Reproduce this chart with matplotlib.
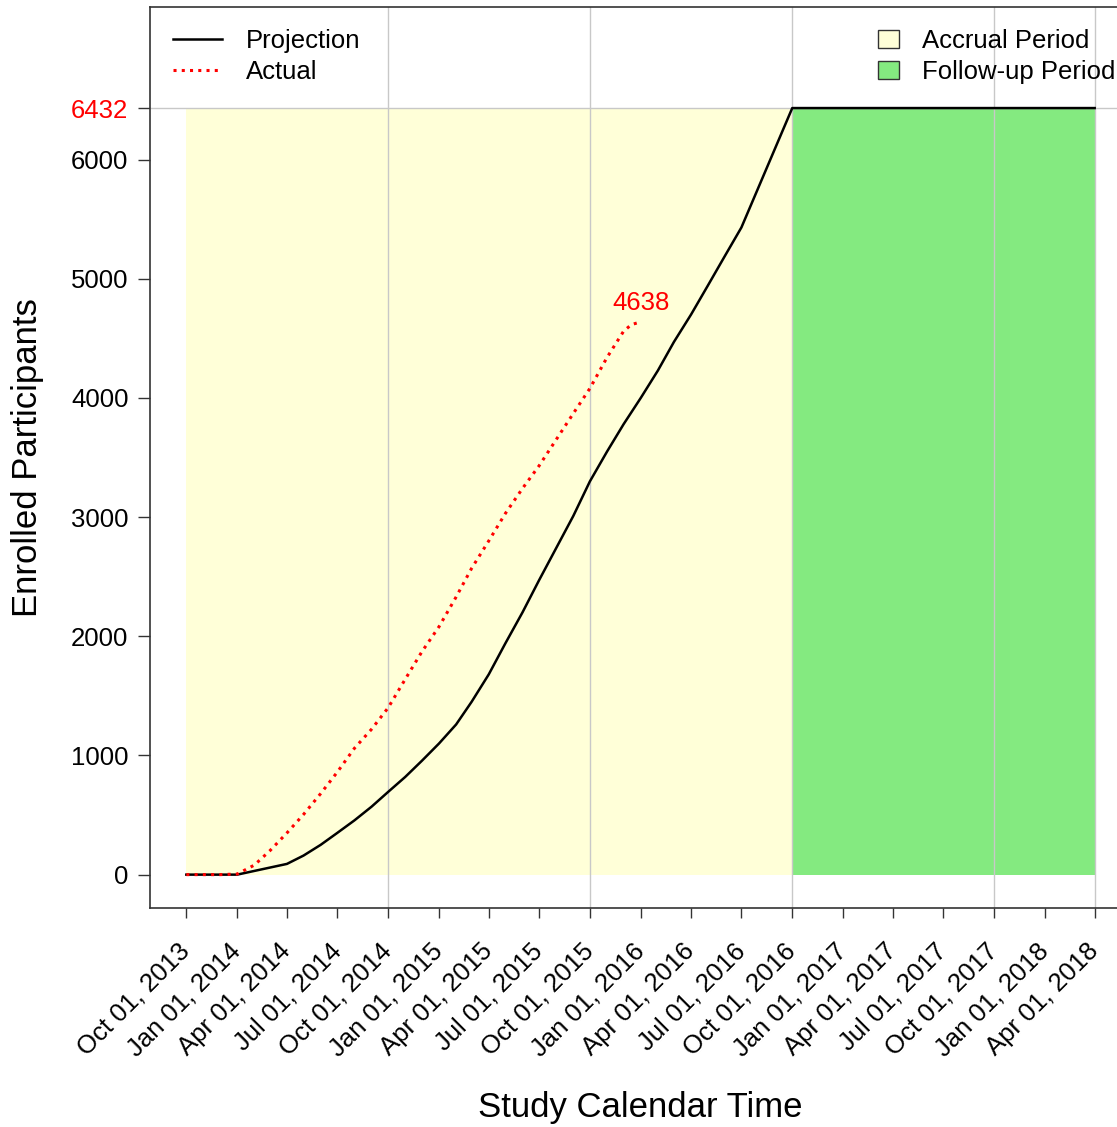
import numpy as np
import pandas as pd
import matplotlib
matplotlib.use("Agg")
import matplotlib.pyplot as plt
import matplotlib.dates as mdates
from matplotlib.lines import Line2D
from matplotlib.patches import Patch

plt.rcParams['font.family'] = ['Liberation Sans', 'DejaVu Sans']

target = 6432
enrolled_now = 4638

# projection (monthly read-off)
proj_dates = ["2013-10-01", "2014-01-01", "2014-04-01", "2014-05-01", "2014-06-01",
              "2014-07-01", "2014-08-01", "2014-09-01", "2014-10-01", "2014-11-01",
              "2014-12-01", "2015-01-01", "2015-02-01", "2015-03-01", "2015-04-01",
              "2015-05-01", "2015-06-01", "2015-07-01", "2015-08-01", "2015-09-01",
              "2015-10-01", "2015-11-01", "2015-12-01", "2016-01-01", "2016-02-01",
              "2016-03-01", "2016-04-01", "2016-05-01", "2016-06-01", "2016-07-01",
              "2016-10-01", "2018-04-01"]
proj_vals = [0, 0, 90, 160, 250,
             350, 455, 570, 694, 820,
             955, 1100, 1260, 1450, 1680,
             1940, 2200, 2470, 2740, 3010,
             3300, 3550, 3780, 4000, 4230,
             4470, 4700, 4940, 5190, 5430,
             6432, 6432]

# actual enrollment
act_dates = ["2013-10-01", "2013-11-01", "2013-12-01", "2014-01-01", "2014-02-01",
             "2014-03-01", "2014-04-01", "2014-05-01", "2014-06-01", "2014-07-01",
             "2014-08-01", "2014-09-01", "2014-10-01", "2014-11-01", "2014-12-01",
             "2015-01-01", "2015-02-01", "2015-03-01", "2015-04-01", "2015-05-01",
             "2015-06-01", "2015-07-01", "2015-08-01", "2015-09-01", "2015-10-01",
             "2015-11-01", "2015-12-01", "2015-12-15", "2016-01-01"]
act_vals = [0, 0, 0, 5, 80,
            200, 350, 505, 680, 860,
            1060, 1220, 1400, 1640, 1870,
            2080, 2330, 2570, 2800, 3030,
            3240, 3430, 3650, 3870, 4080,
            4340, 4560, 4615, enrolled_now]

tick_dates = pd.date_range("2013-10-01", "2018-04-01", freq="QS-OCT")
grid_dates = ["2014-10-01", "2015-10-01", "2016-10-01", "2017-10-01", "2018-04-01"]
accrual = ["2013-10-01", "2016-10-01"]
followup = ["2016-10-01", "2018-04-01"]
yticks = [0, 1000, 2000, 3000, 4000, 5000, 6000]

fig = plt.figure(figsize=(11.17, 11.27), dpi=100)
ax = fig.add_axes([150/1117, 219/1127, 981/1117, 901/1127])

d0 = mdates.date2num(pd.Timestamp(tick_dates[0]))
d1 = mdates.date2num(pd.Timestamp(tick_dates[-1]))
span = d1 - d0
ax.set_xlim(d0 - 0.04*span, d1 + 0.04*span)
ax.set_ylim(-280, 7280)

ax.fill_between(pd.to_datetime(accrual), 0, target, color='#FFFFD8', lw=0, zorder=1)
ax.fill_between(pd.to_datetime(followup), 0, target, color='#84EA80', lw=0, zorder=1)

for g in grid_dates:
    ax.axvline(pd.Timestamp(g), color='#C8C8C8', lw=1.0, zorder=2)
ax.axhline(target, color='#C8C8C8', lw=1.0, zorder=2)

ax.plot(pd.to_datetime(proj_dates), proj_vals, color='black', lw=1.8, zorder=3)
ax.plot(pd.to_datetime(act_dates), act_vals, color='red', lw=2.2,
        dashes=(1.0, 1.7), zorder=4)
ax.text(pd.Timestamp(act_dates[-1]), enrolled_now + 60, str(enrolled_now),
        color='red', fontsize=18.5, ha='center', va='bottom', zorder=5)

ax.set_xticks(tick_dates)
ax.set_xticklabels([d.strftime("%b %d, %Y") for d in tick_dates])
ax.tick_params(axis='x', length=7.5, width=1.0, pad=21, labelsize=18.5, colors='#333333',
               labelcolor='black')
for lab in ax.get_xticklabels():
    lab.set_rotation(45)
    lab.set_ha('right')
    lab.set_va('center')
    lab.set_rotation_mode('anchor')

ax.set_yticks(yticks + [target])
ax.set_yticklabels([str(v) for v in yticks] + [str(target)])
ax.tick_params(axis='y', length=8.5, width=1.0, pad=7, labelsize=18.5, colors='#333333',
               labelcolor='black')
ax.get_yticklabels()[-1].set_color('red')

for s in ['left', 'top', 'bottom']:
    ax.spines[s].set_color('#333333')
    ax.spines[s].set_linewidth(1.2)
ax.spines['right'].set_visible(False)

fig.text(640/1117, 1 - 1107/1127, "Study Calendar Time", fontsize=25,
         ha='center', va='center')
fig.text(28/1117, 1 - 458/1127, "Enrolled Participants", fontsize=25,
         ha='center', va='center', rotation=90)

h1 = [Line2D([], [], color='black', lw=1.8),
      Line2D([], [], color='red', lw=2.2, dashes=(1.0, 1.7))]
leg1 = fig.legend(h1, ["Projection", "Actual"], loc='upper left',
                  bbox_to_anchor=(173/1117, 1 - 29/1127), frameon=False, fontsize=18.5,
                  handlelength=1.9, handletextpad=0.95, labelspacing=0.26,
                  borderpad=0, borderaxespad=0)
h2 = [Patch(facecolor='#FFFFD8', edgecolor='#333333', lw=1.0),
      Patch(facecolor='#84EA80', edgecolor='#333333', lw=1.0)]
leg2 = fig.legend(h2, ["Accrual Period", "Follow-up Period"], loc='upper left',
                  bbox_to_anchor=(878/1117, 1 - 29/1127), frameon=False, fontsize=18.5,
                  handlelength=0.8, handleheight=0.7, handletextpad=0.9,
                  labelspacing=0.26, borderpad=0, borderaxespad=0)

fig.savefig("out.png", dpi=100)
